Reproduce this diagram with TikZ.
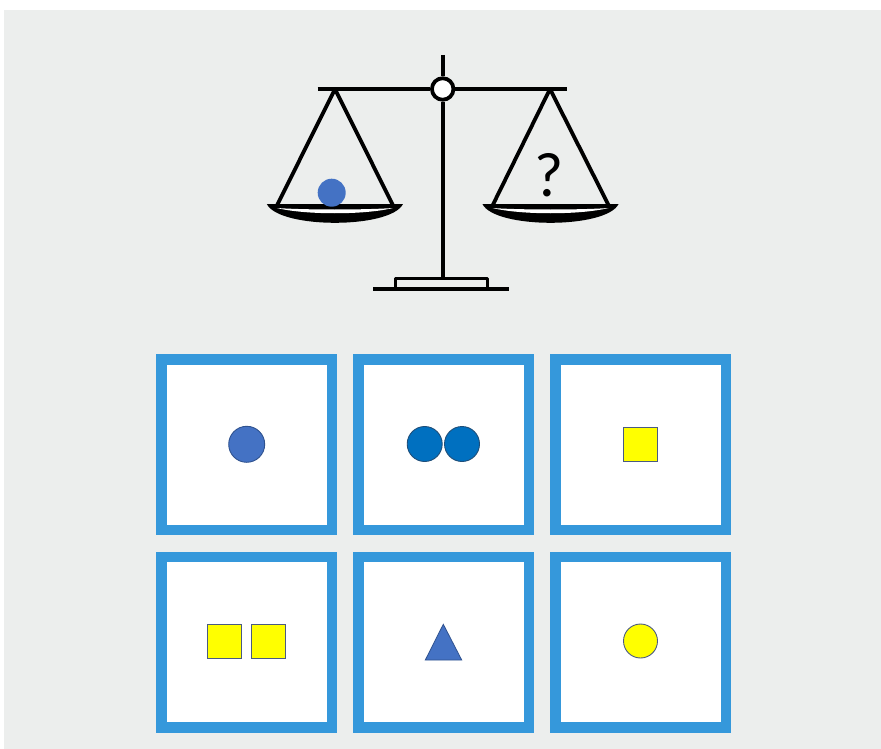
\documentclass[tikz,border=0pt]{standalone}
\usepackage{fontspec}
\newfontfamily\qfont{Carlito}
\usetikzlibrary{shapes.geometric}
\definecolor{bggray}{HTML}{ECEEED}
\definecolor{cardblue}{RGB}{53,152,219}
\definecolor{ballblue}{HTML}{4472C4}
\definecolor{balledge}{HTML}{2F528F}
\definecolor{deepblue}{HTML}{0070C0}
\definecolor{deepedge}{HTML}{1F4E79}
\definecolor{yel}{HTML}{FFFF00}
\definecolor{yeledge}{HTML}{4A5A82}
\tikzset{
  scl/.style={draw=black, line width=3.8pt, line cap=butt, line join=round},
  card/.style={draw=cardblue, fill=white, line width=10.5pt, minimum size=170.5pt, inner sep=0pt},
  dot/.style={circle, inner sep=0pt, line width=0.9pt},
  sq/.style={rectangle, inner sep=0pt, minimum size=34pt, fill=yel, draw=yeledge, line width=1pt},
}
\begin{document}
\begin{tikzpicture}[x=1pt,y=-1pt]
\useasboundingbox (0,0) rectangle (881,749);
\fill[white] (0,0) rectangle (881,749);
\fill[bggray] (4,10) rectangle (881,749);

% scale
\coordinate (top) at (442.7,55);
\coordinate (foot) at (442.7,278.3);
\coordinate (bl) at (317.7,89);
\coordinate (br) at (566.7,89);
\node[circle, scl, fill=white, minimum size=21.5pt, inner sep=0pt] (pivot) at (442.7,89) {};
\draw[scl] (top) -- (pivot.north);
\draw[scl] (pivot.south) -- (foot);
\draw[scl] (bl) -- (pivot.west);
\draw[scl] (pivot.east) -- (br);

\coordinate (la) at (335,89);
\coordinate (la1) at (276.7,206);
\coordinate (la2) at (393.3,206);
\coordinate (ra) at (550,89);
\coordinate (ra1) at (492.3,206);
\coordinate (ra2) at (609,206);
\draw[scl] (la1) -- (la) -- (la2);
\draw[scl] (ra1) -- (ra) -- (ra2);

% pans
\foreach \cx in {334.9,550.5}{
\begin{scope}[shift={(\cx,206)}]
  \fill[black] (-68,-1.8) -- (68,-1.8) .. controls (55,23) and (-55,23) .. (-68,-1.8) -- cycle;
  \fill[white] (-58,2) .. controls (-30,9) and (30,9) .. (58,2) .. controls (30,4) and (-30,4) .. (-58,2) -- cycle;
\end{scope}}

\node[circle, fill=ballblue, minimum size=28pt, inner sep=0pt] (ball) at (331.7,192.7) {};
\node[font=\qfont\fontsize{63}{63}\selectfont, inner sep=0pt] (q) at (549.3,175) {?};

% base
\coordinate (b1) at (395.7,289.3);
\coordinate (b2) at (395.7,278.3);
\coordinate (b3) at (487.3,278.3);
\coordinate (b4) at (487.3,289.3);
\coordinate (g1) at (373.3,289.3);
\coordinate (g2) at (509.3,289.3);
\draw[scl, line width=3pt] (b1) -- (b2) -- (b3) -- (b4);
\draw[scl] (g1) -- (g2);

% cards
\node[card] (k1) at (246.5,444.5) {};
\node[card] (k2) at (443.5,444.5) {};
\node[card] (k3) at (640.5,444.5) {};
\node[card] (k4) at (246.5,642) {};
\node[card] (k5) at (443.5,642) {};
\node[card] (k6) at (640.5,642) {};

% card contents
\node[dot, fill=ballblue, draw=balledge, minimum size=36pt] (s1) at (246.7,444.3) {};
\node[dot, fill=deepblue, draw=deepedge, minimum size=35pt] (s2a) at (424.7,444) {};
\node[dot, fill=deepblue, draw=deepedge, minimum size=35pt] (s2b) at (462,444) {};
\node[sq] (s3) at (640.5,444) {};
\node[sq] (s4a) at (224.2,641.5) {};
\node[sq] (s4b) at (268.5,641.5) {};
\coordinate (t1) at (443.3,624.3);
\coordinate (t2) at (461.7,660);
\coordinate (t3) at (425.3,660);
\filldraw[fill=ballblue, draw=balledge, line width=0.8pt, line join=miter] (t1) -- (t2) -- (t3) -- cycle;
\node[dot, fill=yel, draw=yeledge, minimum size=34pt] (s6) at (640.5,641) {};
\end{tikzpicture}
\end{document}
